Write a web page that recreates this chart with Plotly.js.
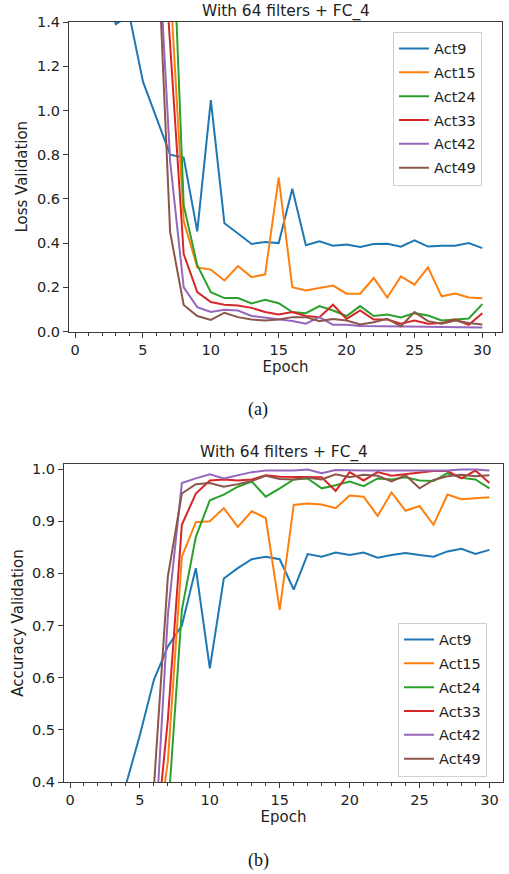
<!DOCTYPE html>
<html>
<head>
<meta charset="utf-8">
<script src="https://cdn.plot.ly/plotly-3.0.1.min.js"></script>
<style>
  html, body { margin: 0; padding: 0; background: #ffffff; }
  #chart { width: 509px; height: 874px; }
</style>
</head>
<body>
<div id="chart"></div>
<script>
// ---------- data ----------
const epochs = [1,2,3,4,5,6,7,8,9,10,11,12,13,14,15,16,17,18,19,20,21,22,23,24,25,26,27,28,29,30];
const seriesNames = ["Act9", "Act15", "Act24", "Act33", "Act42", "Act49"];
const xTickLabels = ["0", "5", "10", "15", "20", "25", "30"];
const titleText = "With 64 filters + FC_4";

// (a) validation loss
const lossAct9  = [2.2, 1.6, 1.39, 1.43, 1.13, 0.965, 0.80, 0.787, 0.453, 1.047, 0.49, 0.443, 0.396, 0.405, 0.40, 0.646, 0.39, 0.408, 0.388, 0.394, 0.382, 0.396, 0.397, 0.384, 0.412, 0.384, 0.388, 0.388, 0.40, 0.377];
const lossAct15 = [4.5, 3.8, 3.2, 2.8, 2.4, 2.0, 1.57, 0.50, 0.29, 0.28, 0.231, 0.296, 0.246, 0.258, 0.696, 0.20, 0.186, 0.198, 0.208, 0.171, 0.171, 0.242, 0.154, 0.249, 0.212, 0.29, 0.159, 0.172, 0.154, 0.15];
const lossAct24 = [5.0, 4.2, 3.6, 3.1, 2.8, 2.5, 2.15, 0.57, 0.30, 0.178, 0.151, 0.151, 0.127, 0.144, 0.128, 0.088, 0.083, 0.115, 0.095, 0.07, 0.115, 0.07, 0.077, 0.063, 0.083, 0.072, 0.05, 0.054, 0.059, 0.124];
const lossAct33 = [4.8, 4.0, 3.4, 3.0, 2.6, 2.23, 1.30, 0.35, 0.178, 0.133, 0.121, 0.118, 0.107, 0.088, 0.077, 0.088, 0.07, 0.065, 0.121, 0.057, 0.095, 0.054, 0.054, 0.035, 0.05, 0.035, 0.038, 0.054, 0.03, 0.083];
const lossAct42 = [4.6, 3.9, 3.2, 2.7, 2.3, 1.92, 0.77, 0.20, 0.11, 0.088, 0.098, 0.095, 0.07, 0.063, 0.054, 0.047, 0.035, 0.065, 0.03, 0.03, 0.025, 0.025, 0.024, 0.024, 0.022, 0.022, 0.02, 0.02, 0.018, 0.018];
const lossAct49 = [4.4, 3.7, 3.1, 2.6, 2.2, 1.87, 0.45, 0.12, 0.07, 0.052, 0.085, 0.065, 0.054, 0.05, 0.054, 0.065, 0.065, 0.047, 0.057, 0.05, 0.032, 0.042, 0.057, 0.024, 0.088, 0.047, 0.035, 0.05, 0.038, 0.032];

// (b) validation accuracy
const accAct9  = [0.25, 0.28, 0.33, 0.395, 0.49, 0.596, 0.66, 0.70, 0.81, 0.618, 0.79, 0.81, 0.827, 0.832, 0.827, 0.769, 0.837, 0.832, 0.84, 0.835, 0.84, 0.83, 0.835, 0.839, 0.835, 0.832, 0.842, 0.847, 0.837, 0.845];
const accAct15 = [0.25, 0.25, 0.25, 0.25, 0.25, 0.25, 0.44, 0.832, 0.898, 0.90, 0.925, 0.889, 0.919, 0.906, 0.73, 0.931, 0.934, 0.932, 0.925, 0.949, 0.947, 0.91, 0.955, 0.92, 0.929, 0.893, 0.951, 0.942, 0.944, 0.946];
const accAct24 = [0.25, 0.25, 0.25, 0.25, 0.25, 0.25, 0.338, 0.73, 0.87, 0.94, 0.951, 0.966, 0.976, 0.947, 0.963, 0.98, 0.982, 0.963, 0.969, 0.976, 0.967, 0.982, 0.98, 0.984, 0.978, 0.977, 0.992, 0.983, 0.98, 0.963];
const accAct33 = [0.25, 0.25, 0.25, 0.25, 0.25, 0.25, 0.52, 0.893, 0.953, 0.978, 0.98, 0.978, 0.98, 0.988, 0.985, 0.985, 0.984, 0.984, 0.958, 0.994, 0.978, 0.994, 0.987, 0.99, 0.994, 0.996, 0.996, 0.982, 0.997, 0.973];
const accAct42 = [0.25, 0.25, 0.25, 0.25, 0.25, 0.25, 0.72, 0.973, 0.982, 0.99, 0.982, 0.988, 0.994, 0.997, 0.997, 0.997, 0.999, 0.992, 0.998, 0.997, 0.997, 0.997, 0.997, 0.997, 0.997, 0.997, 0.997, 0.999, 0.999, 0.997];
const accAct49 = [0.25, 0.25, 0.25, 0.25, 0.25, 0.39, 0.794, 0.953, 0.971, 0.973, 0.966, 0.971, 0.977, 0.987, 0.981, 0.98, 0.983, 0.98, 0.99, 0.984, 0.989, 0.987, 0.976, 0.988, 0.963, 0.979, 0.986, 0.989, 0.986, 0.988];

const lossSeries = [lossAct9, lossAct15, lossAct24, lossAct33, lossAct42, lossAct49];
const accSeries  = [accAct9, accAct15, accAct24, accAct33, accAct42, accAct49];
const colors = ["#1f77b4", "#ff7f0e", "#2ca02c", "#d62728", "#9467bd", "#8c564b"];

// ---------- layout helpers ----------
const W = 509, H = 874;
const px = v => v / W;
const py = v => 1 - v / H;
const FONT = "DejaVu Sans, Liberation Sans, sans-serif";
const AX = "#3a3a3a";

const traces = [];
seriesNames.forEach((name, i) => {
  traces.push({
    x: epochs, y: lossSeries[i], name: name, type: "scatter", mode: "lines",
    line: { color: colors[i], width: 2 }, xaxis: "x", yaxis: "y",
    legend: "legend", legendgroup: "a" + i
  });
});
seriesNames.forEach((name, i) => {
  traces.push({
    x: epochs, y: accSeries[i], name: name, type: "scatter", mode: "lines",
    line: { color: colors[i], width: 2 }, xaxis: "x2", yaxis: "y2",
    legend: "legend2", legendgroup: "b" + i
  });
});

function xAxis(domain, range, anchor) {
  return {
    domain: domain, range: range, anchor: anchor,
    tickmode: "array", tickvals: xTickLabels.map(Number), ticktext: xTickLabels,
    ticks: "outside", ticklen: 5, tickwidth: 1, tickcolor: AX,
    minor: { tickmode: "linear", tick0: 0, dtick: 1, ticks: "outside", ticklen: 3, tickwidth: 1, tickcolor: AX, showgrid: false },
    showline: true, linecolor: AX, linewidth: 1, mirror: true,
    showgrid: false, zeroline: false,
    tickfont: { family: FONT, size: 14.5, color: "#222" },
    title: { text: "Epoch", font: { family: FONT, size: 15, color: "#222" }, standoff: 4 }
  };
}
function yAxis(domain, range, anchor, tick0, dtick, label, standoff) {
  return {
    domain: domain, range: range, anchor: anchor,
    tick0: tick0, dtick: dtick, tickformat: ".1f",
    ticks: "outside", ticklen: 5, tickwidth: 1, tickcolor: AX,
    showline: true, linecolor: AX, linewidth: 1, mirror: true,
    showgrid: false, zeroline: false,
    tickfont: { family: FONT, size: 14.5, color: "#222" },
    title: { text: label, font: { family: FONT, size: 15, color: "#222" }, standoff: standoff }
  };
}
function legendBox(x, y) {
  return {
    x: x, y: y, xanchor: "left", yanchor: "top",
    bgcolor: "rgba(255,255,255,0.85)", bordercolor: "#cfcfcf", borderwidth: 1,
    font: { family: FONT, size: 14.5, color: "#222" },
    tracegroupgap: 2, traceorder: "grouped"
  };
}

const layout = {
  width: W, height: H,
  margin: { l: 0, r: 0, t: 0, b: 0 },
  paper_bgcolor: "#ffffff", plot_bgcolor: "#ffffff",
  font: { family: FONT, color: "#222" },
  showlegend: true,
  xaxis: xAxis([px(69), px(502)], [-0.45, 31.45], "y"),
  yaxis: yAxis([py(331.5), py(22)], [0, 1.4], "x", 0, 0.2, "Loss Validation", 5),
  xaxis2: xAxis([px(64), px(503)], [-0.43, 30.97], "y2"),
  yaxis2: yAxis([py(782), py(464)], [0.4, 1.0096], "x2", 0.4, 0.1, "Accuracy Validation", 4),
  legend: legendBox(px(393), py(31.5)),
  legend2: legendBox(px(398), py(622.5)),
  annotations: [
    { text: titleText, xref: "paper", yref: "paper", x: px(285.5), y: py(12), xanchor: "center", yanchor: "middle", showarrow: false, font: { family: FONT, size: 15.4, color: "#222" } },
    { text: titleText, xref: "paper", yref: "paper", x: px(283.5), y: py(452), xanchor: "center", yanchor: "middle", showarrow: false, font: { family: FONT, size: 15.4, color: "#222" } },
    { text: "(a)", xref: "paper", yref: "paper", x: px(258), y: py(410), xanchor: "center", yanchor: "middle", showarrow: false, font: { family: "Liberation Serif, serif", size: 18, color: "#111" } },
    { text: "(b)", xref: "paper", yref: "paper", x: px(258.5), y: py(860), xanchor: "center", yanchor: "middle", showarrow: false, font: { family: "Liberation Serif, serif", size: 18, color: "#111" } }
  ]
};

Plotly.newPlot("chart", traces, layout, { staticPlot: true, displayModeBar: false });
</script>
</body>
</html>
